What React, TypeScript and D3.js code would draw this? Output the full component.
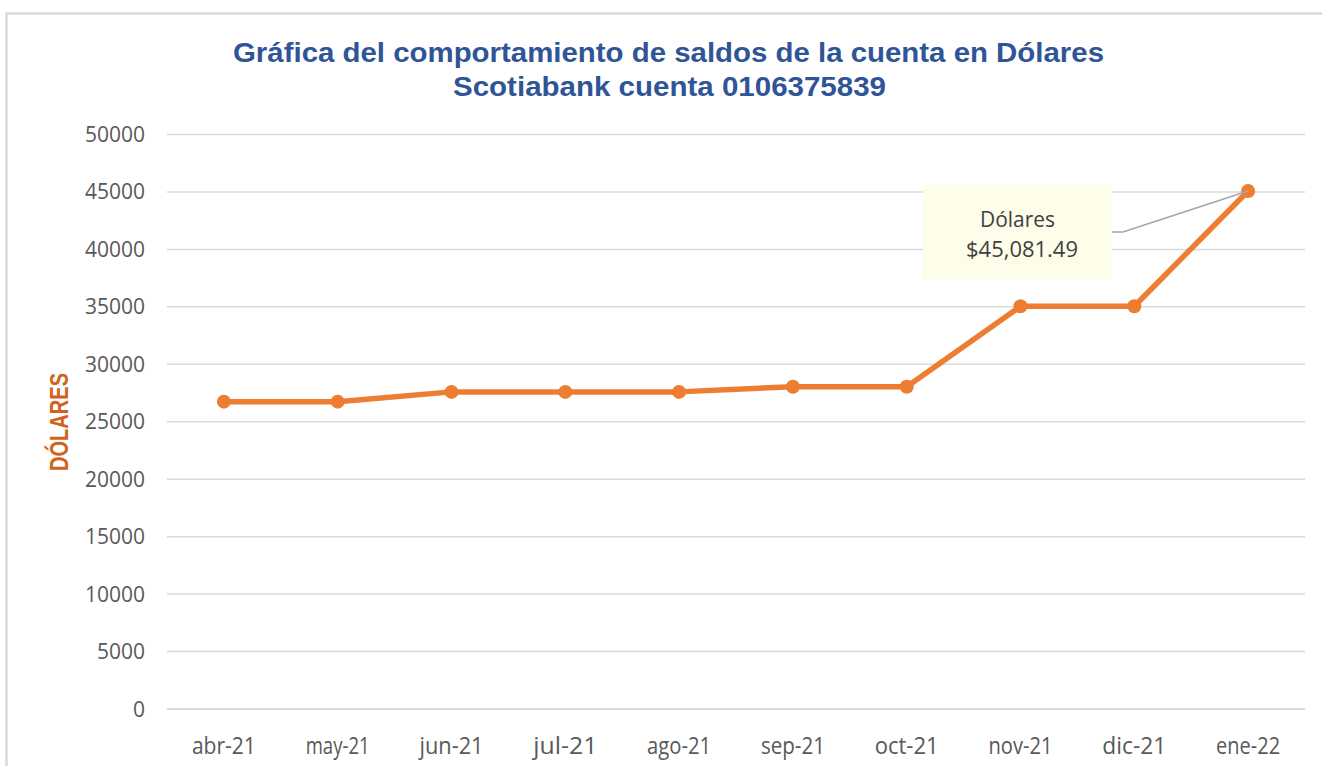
import React from "react";
import * as d3 from "d3";

const categories = ["abr-21", "may-21", "jun-21", "jul-21", "ago-21", "sep-21", "oct-21", "nov-21", "dic-21", "ene-22"];
const saldos = [26750, 26750, 27600, 27600, 27600, 28050, 28050, 35050, 35050, 45081.49];
const yTicks = [0, 5000, 10000, 15000, 20000, 25000, 30000, 35000, 40000, 45000, 50000];
const titleLines = ["Gráfica del comportamiento de saldos de la cuenta en Dólares", "Scotiabank cuenta 0106375839"];
const yTitle = "DÓLARES";
const seriesName = "Dólares";

const W = 1322;
const H = 766;
const plot = { left: 167, right: 1305, top: 134.5, bottom: 709 };

export default function App() {
  const x = d3.scaleBand<string>().domain(categories).range([plot.left, plot.right]);
  const y = d3.scaleLinear().domain([0, 50000]).range([plot.bottom, plot.top]);
  const cx = (c: string) => (x(c) as number) + x.bandwidth() / 2;

  const line = d3
    .line<number>()
    .x((_, i) => cx(categories[i]))
    .y((d) => y(d));

  const lastIdx = saldos.length - 1;
  const lastX = cx(categories[lastIdx]);
  const lastY = y(saldos[lastIdx]);
  const fmt = d3.format("$,.2f");

  const box = { x: 923, y: 185, w: 189, h: 95 };

  return (
    <svg
      width={W}
      height={H}
      style={{ position: "absolute", left: 0, top: 0, background: "#fff" }}
    >
      <rect x={0} y={0} width={W} height={H} fill="#fff" />
      <rect x={6.5} y={13.5} width={W + 20} height={H + 20} fill="none" stroke="#d9d9d9" strokeWidth={2.5} />

      {/* Title */}
      <g fontFamily="'Liberation Sans', Arial, sans-serif" fontWeight="bold" fontSize={28.5} fill="#2F5597" textAnchor="middle">
        <text x={668.5} y={62} textLength={871} lengthAdjust="spacingAndGlyphs">{titleLines[0]}</text>
        <text x={669.5} y={96} textLength={433} lengthAdjust="spacingAndGlyphs">{titleLines[1]}</text>
      </g>

      {/* Gridlines */}
      {yTicks.map((t) => (
        <line
          key={t}
          x1={plot.left}
          x2={plot.right}
          y1={y(t)}
          y2={y(t)}
          stroke="#d9d9d9"
          strokeWidth={t === 0 ? 2 : 1.5}
        />
      ))}

      {/* Y tick labels */}
      <g fontFamily="'Open Sans', sans-serif" fontSize={21} fill="#595959" textAnchor="end">
        {yTicks.map((t) => (
          <text key={t} x={145} y={y(t) + 7.5}>{t}</text>
        ))}
      </g>

      {/* X tick labels */}
      <g fontFamily="'Open Sans', sans-serif" fontSize={23} fill="#595959" textAnchor="middle">
        {categories.map((c) => (
          <text key={c} x={cx(c)} y={754} textLength={64} lengthAdjust="spacingAndGlyphs">{c}</text>
        ))}
      </g>

      {/* Y title */}
      <text
        transform={`translate(68,422) rotate(-90)`}
        textAnchor="middle"
        fontFamily="'Liberation Sans', Arial, sans-serif"
        fontWeight="bold"
        fontSize={26}
        fill="#D0641C"
        textLength={98}
        lengthAdjust="spacingAndGlyphs"
      >
        {yTitle}
      </text>

      {/* Line */}
      <path d={line(saldos) || ""} fill="none" stroke="#ED7D31" strokeWidth={5.5} strokeLinejoin="round" />
      {saldos.map((v, i) => (
        <circle key={i} cx={cx(categories[i])} cy={y(v)} r={7} fill="#ED7D31" />
      ))}

      {/* Callout */}
      <polyline
        points={`${box.x + box.w},${232} ${box.x + box.w + 11},${232} ${lastX},${lastY}`}
        fill="none"
        stroke="#a6a6a6"
        strokeWidth={1.5}
      />
      <rect x={box.x} y={box.y} width={box.w} height={box.h} fill="#FDFDEA" />
      <g fontFamily="'Open Sans', sans-serif" fontSize={22} fill="#404040" textAnchor="middle">
        <text x={1017.5} y={227} textLength={75} lengthAdjust="spacingAndGlyphs">{seriesName}</text>
        <text x={1022} y={257} textLength={112} lengthAdjust="spacingAndGlyphs">{fmt(saldos[lastIdx])}</text>
      </g>
    </svg>
  );
}
